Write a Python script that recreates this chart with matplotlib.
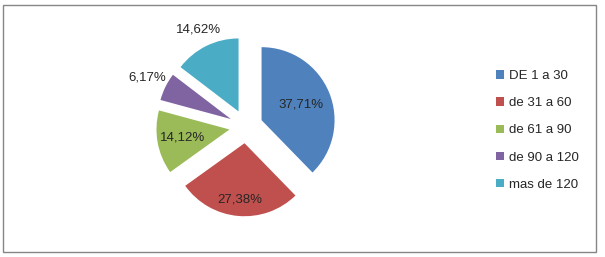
"""Pie chart of days ranges with exploded slices."""
import numpy as np
import matplotlib
matplotlib.use("Agg")
import matplotlib.pyplot as plt
from matplotlib.patches import Rectangle, Patch

labels = ["DE 1 a 30", "de 31 a 60", "de 61 a 90", "de 90 a 120", "mas de 120"]
values = [37.71, 27.38, 14.12, 6.17, 14.62]
pct_text = ["37,71%", "27,38%", "14,12%", "6,17%", "14,62%"]
colors = ["#4F81BD", "#C0504D", "#9BBB59", "#8064A2", "#4BACC6"]
label_r = [0.58, 0.78, 0.65, 1.28, 1.25]

plt.rcParams["font.family"] = ["Liberation Sans", "DejaVu Sans"]

W, H = 605, 257
fig = plt.figure(figsize=(W / 100, H / 100), dpi=100)

# frame around chart area
fig.patches.append(Rectangle((3 / W, 5 / H), 593 / W, 247 / H, transform=fig.transFigure,
                             fill=False, edgecolor="#868686", lw=1))

# pie axes: 240 px square, limits +-1.6 -> radius ~75 px
cx, cy, size = 246, H - 126.5, 240
ax = fig.add_axes([(cx - size / 2) / W, (cy - size / 2) / H, size / W, size / H])
ax.set_xlim(-1.6, 1.6)
ax.set_ylim(-1.6, 1.6)
ax.axis("off")

R = 73 / 75
explode = [0.23] * len(values)
wedges, _ = ax.pie(values, colors=colors, startangle=90, counterclock=False,
                   explode=[e * R for e in explode], radius=R, frame=False)
ax.set_xlim(-1.6, 1.6)
ax.set_ylim(-1.6, 1.6)

for w, txt, lr, e in zip(wedges, pct_text, label_r, explode):
    ang = np.deg2rad((w.theta1 + w.theta2) / 2)
    d = (e + lr) * R
    ax.text(d * np.cos(ang), d * np.sin(ang), txt, ha="center", va="center",
            fontsize=9.5, color="#262626")

handles = [Patch(facecolor=c, edgecolor="none") for c in colors]
fig.legend(handles, labels, loc="upper left", bbox_to_anchor=(496 / W, 1 - 70 / H),
           frameon=False, fontsize=9.5, handlelength=0.6, handleheight=0.6,
           handletextpad=0.4, labelspacing=1.15, borderaxespad=0, borderpad=0,
           labelcolor="#262626")

fig.savefig("out.png", dpi=100)
